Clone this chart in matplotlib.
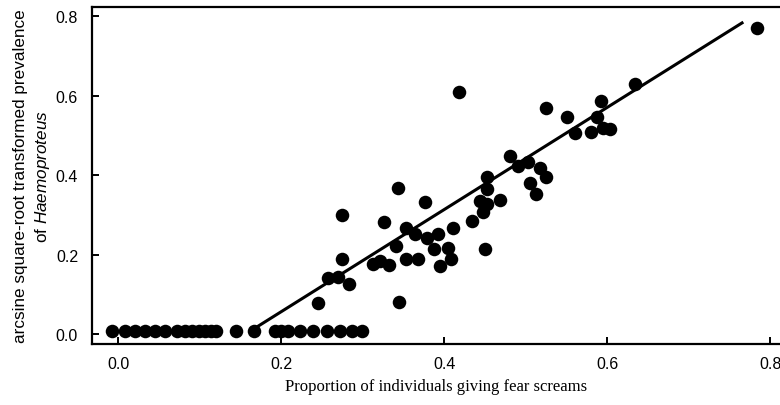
import numpy as np
import matplotlib
matplotlib.use('Agg')
import matplotlib.pyplot as plt

plt.rcParams['font.family'] = 'Liberation Sans'
plt.rcParams['mathtext.fontset'] = 'custom'
plt.rcParams['mathtext.it'] = 'Liberation Sans:italic'
plt.rcParams['mathtext.rm'] = 'Liberation Sans'

# groups where nobody screamed / no infection recorded
zero_x = [-0.008, 0.009, 0.021, 0.033, 0.045, 0.058, 0.072, 0.082, 0.091, 0.099,
          0.107, 0.114, 0.120, 0.145, 0.167, 0.193, 0.200, 0.209, 0.223, 0.239,
          0.256, 0.272, 0.287, 0.299]
zero_y = [0.008] * len(zero_x)

scream_x = [0.245, 0.344, 0.257, 0.270, 0.283, 0.275, 0.275, 0.313, 0.321, 0.332,
            0.341, 0.353, 0.368, 0.326, 0.343, 0.353, 0.364, 0.379, 0.392, 0.377,
            0.387, 0.405, 0.409, 0.395, 0.411, 0.434, 0.450, 0.444, 0.452, 0.448,
            0.469, 0.453, 0.453, 0.418, 0.481, 0.490, 0.503, 0.518, 0.525, 0.505,
            0.513, 0.525, 0.551, 0.561, 0.580, 0.588, 0.593, 0.595, 0.604, 0.634,
            0.784]
prev_y = [0.078, 0.081, 0.141, 0.143, 0.126, 0.190, 0.299, 0.176, 0.184, 0.174,
          0.221, 0.190, 0.190, 0.283, 0.367, 0.266, 0.252, 0.242, 0.251, 0.333,
          0.214, 0.216, 0.190, 0.172, 0.267, 0.284, 0.214, 0.335, 0.327, 0.307,
          0.338, 0.365, 0.394, 0.610, 0.447, 0.423, 0.433, 0.419, 0.395, 0.381,
          0.352, 0.568, 0.545, 0.506, 0.508, 0.546, 0.587, 0.518, 0.516, 0.629,
          0.769]

fit_x = [0.168, 0.767]
fit_y = [0.015, 0.785]

xticks = [0.0, 0.2, 0.4, 0.6, 0.8]
yticks = [0.0, 0.2, 0.4, 0.6, 0.8]

fig = plt.figure(figsize=(7.8, 4.06), dpi=100)
ax = fig.add_axes([92/780, 61/406, 1 - 92/780, 337/406])

ax.scatter(zero_x, zero_y, s=95, color='black', lw=0, zorder=3)
ax.scatter(scream_x, prev_y, s=95, color='black', lw=0, zorder=3)
ax.plot(fit_x, fit_y, color='black', lw=2.2, solid_capstyle='butt', zorder=2)

ax.set_xlim(-0.032, 0.812)
ax.set_ylim(-0.025, 0.823)
ax.set_xticks(xticks)
ax.set_yticks(yticks)
ax.set_xticklabels([f'{v:.1f}' for v in xticks])
ax.set_yticklabels([f'{v:.1f}' for v in yticks])
ax.tick_params(direction='in', length=5, width=1.4, labelsize=11.5)
ax.tick_params(axis='x', pad=9)
ax.tick_params(axis='y', pad=10)
for s in ('left', 'bottom', 'top'):
    ax.spines[s].set_linewidth(1.6)
ax.spines['right'].set_visible(False)

ax.set_xlabel('Proportion of individuals giving fear screams',
              family='Liberation Serif', fontsize=12, labelpad=5)
ax.set_ylabel('arcsine square-root transformed prevalence\nof $\\it{Haemoproteus}$',
              fontsize=12.3, labelpad=3, linespacing=1.3)

fig.savefig('out.png', dpi=100)
